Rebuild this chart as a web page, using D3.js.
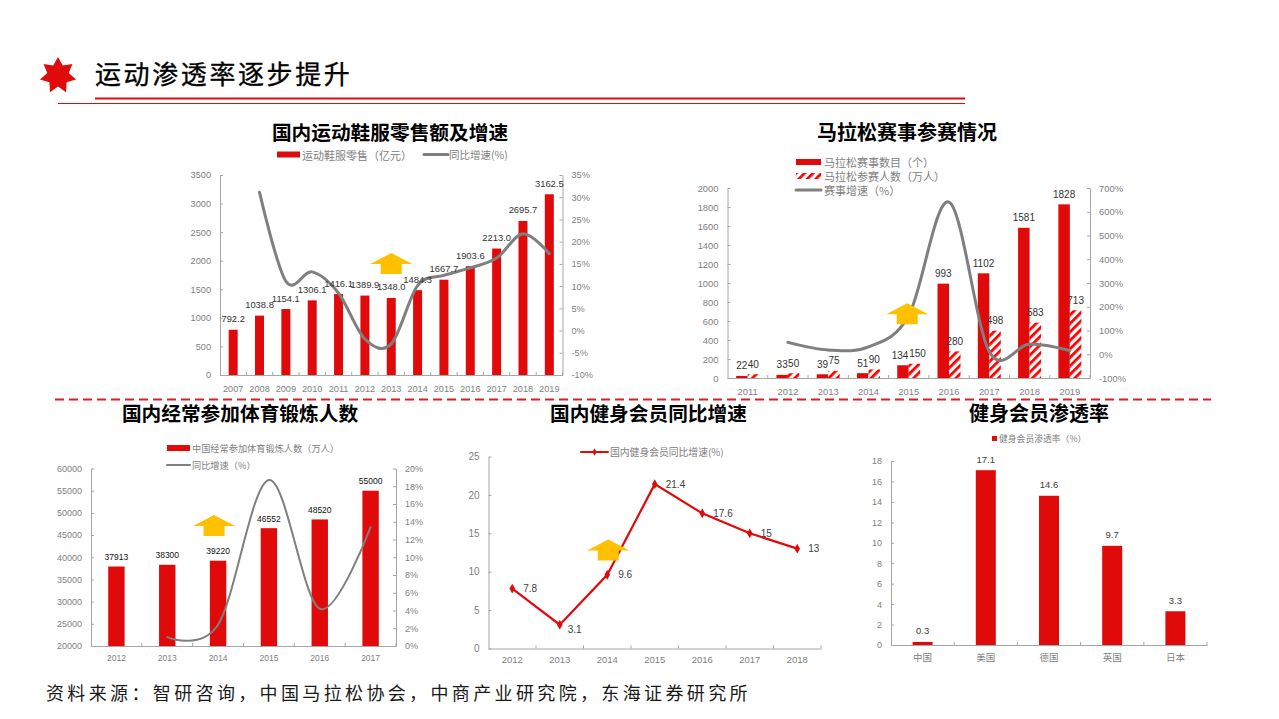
<!DOCTYPE html>
<html lang="zh-CN">
<head>
<meta charset="utf-8">
<title>运动渗透率逐步提升</title>
<script src="https://cdn.jsdelivr.net/npm/d3@7"></script>
<style>
  html, body { margin: 0; padding: 0; background: #fff; }
  svg { display: block; }
  text { font-family: "Liberation Sans", "Noto Sans CJK SC", sans-serif; }
  .cjk { font-family: "Noto Sans CJK SC", sans-serif; }
  .chart-title { font-family: "Noto Sans CJK SC", sans-serif; font-weight: 700; fill: #000; text-anchor: middle; }
  .legend { font-family: "Noto Sans CJK SC", sans-serif; fill: #808080; }
  .tick text { fill: #7f7f7f; }
  .domain, .tick line { stroke: #a6a6a6; }
</style>
</head>
<body>
<svg id="page" width="1279" height="719"></svg>
<script>
// chart 1
const shoeYears = ['2007', '2008', '2009', '2010', '2011', '2012', '2013', '2014', '2015', '2016', '2017', '2018', '2019'];
const shoeSales = [792.2, 1038.8, 1154.1, 1306.1, 1416.1, 1389.9, 1348.0, 1484.3, 1667.7, 1903.6, 2213.0, 2695.7, 3162.5];
const shoeGrowth = [null, 31.1, 11.1, 13.2, 8.4, -1.9, -3.0, 10.1, 12.4, 14.1, 16.3, 21.8, 17.3];

// chart 2
const raceYears = ['2011', '2012', '2013', '2014', '2015', '2016', '2017', '2018', '2019'];
const raceCount = [22, 33, 39, 51, 134, 993, 1102, 1581, 1828];
const racePeople = [40, 50, 75, 90, 150, 280, 498, 583, 713];
const raceGrowth = [null, 50, 18, 31, 163, 641, 11, 43, 16];

// chart 3
const exerciseYears = ['2012', '2013', '2014', '2015', '2016', '2017'];
const exercisePeople = [37913, 38300, 39220, 46552, 48520, 55000];
const exerciseGrowth = [null, 1.0, 2.4, 18.7, 4.2, 13.4];

// chart 4
const memberYears = ['2012', '2013', '2014', '2015', '2016', '2017', '2018'];
const memberGrowth = [7.8, 3.1, 9.6, 21.4, 17.6, 15, 13];

// chart 5
const countries = ['中国', '美国', '德国', '英国', '日本'];
const penetration = [0.3, 17.1, 14.6, 9.7, 3.3];

const RED = '#e00a0a';
const GRAY = '#7f7f7f';
const svg = d3.select('#page');

const defs = svg.append('defs');
const hatch = defs.append('pattern')
  .attr('id', 'hatch')
  .attr('patternUnits', 'userSpaceOnUse')
  .attr('width', 6)
  .attr('height', 6)
  .attr('patternTransform', 'rotate(45)');
hatch.append('rect').attr('width', 6).attr('height', 6).attr('fill', '#fff');
hatch.append('rect').attr('width', 2.8).attr('height', 6).attr('fill', '#f00');

// header
const starPoints = d3.range(14).map(i => [i * Math.PI / 7, i % 2 ? 11 : 18.5]);
svg.append('path')
  .attr('transform', 'translate(58,75.5)')
  .attr('d', d3.lineRadial().curve(d3.curveLinearClosed)(starPoints))
  .attr('fill', RED);
svg.append('text')
  .attr('class', 'cjk')
  .attr('x', 95)
  .attr('y', 84)
  .attr('font-size', 26)
  .attr('letter-spacing', 2.6)
  .attr('fill', '#000')
  .attr('stroke', '#000')
  .attr('stroke-width', 0.3)
  .text('运动渗透率逐步提升');
svg.append('rect').attr('x', 95).attr('width', 870).attr('y', 97.5).attr('height', 2).attr('fill', RED);
svg.append('rect').attr('x', 58).attr('width', 907).attr('y', 103).attr('height', 1).attr('fill', RED);
svg.append('line').attr('x1', 55).attr('x2', 1211).attr('y1', 399.5).attr('y2', 399.5)
  .attr('stroke', '#d81e28').attr('stroke-width', 2).attr('stroke-dasharray', '9 5');
svg.append('text')
  .attr('class', 'cjk')
  .attr('x', 46)
  .attr('y', 700)
  .attr('font-size', 18)
  .attr('letter-spacing', 3.36)
  .attr('fill', '#1a1a1a')
  .text('资料来源：智研咨询，中国马拉松协会，中商产业研究院，东海证券研究所');

function title(text, x, y, size) {
  svg.append('text').attr('class', 'chart-title').attr('x', x).attr('y', y).attr('font-size', size).text(text);
}

function bottomAxis(scale, box, fontSize, tickY) {
  const g = svg.append('g')
    .attr('transform', `translate(0,${box.bottom})`)
    .call(d3.axisBottom(scale).tickSizeOuter(0).tickSize(0).tickPadding(tickY));
  g.selectAll('.tick text').attr('font-size', fontSize);
  // ticks sit between the categories and point into the plot
  const step = scale.step();
  g.selectAll('.sep')
    .data(scale.domain().slice(1))
    .join('line')
    .attr('class', 'sep')
    .attr('x1', d => scale(d))
    .attr('x2', d => scale(d))
    .attr('y1', -3)
    .attr('y2', 0)
    .attr('stroke', '#a6a6a6');
  g.append('line')
    .attr('x1', box.left + step * scale.domain().length)
    .attr('x2', box.left + step * scale.domain().length)
    .attr('y1', -3).attr('y2', 0).attr('stroke', '#a6a6a6');
  return g;
}

function leftAxis(scale, box, tickValues, fontSize) {
  const axis = d3.axisLeft(scale).tickValues(tickValues).tickSizeOuter(0).tickSizeInner(-3).tickPadding(9)
    .tickFormat(d3.format('d'));
  const g = svg.append('g').attr('transform', `translate(${box.left},0)`).call(axis);
  g.selectAll('.tick text').attr('font-size', fontSize);
}

function rightAxis(scale, box, tickValues, fontSize) {
  const axis = d3.axisRight(scale).tickValues(tickValues).tickSizeOuter(0).tickSizeInner(-3).tickPadding(9)
    .tickFormat(d => d + '%');
  const g = svg.append('g').attr('transform', `translate(${box.right},0)`).call(axis);
  g.selectAll('.tick text').attr('font-size', fontSize);
}

function valueLabels(cats, vals, x, y, offset, fontSize, fill, fmt) {
  svg.append('g').selectAll('text')
    .data(cats)
    .join('text')
    .attr('x', d => x(d))
    .attr('y', (d, i) => y(vals[i]) - offset)
    .attr('text-anchor', 'middle')
    .attr('font-size', fontSize)
    .attr('fill', fill)
    .text((d, i) => fmt ? fmt(vals[i]) : vals[i]);
}

function smoothLine(cats, vals, x, y, width) {
  const line = d3.line()
    .defined(d => d[1] !== null)
    .x(d => x(d[0]))
    .y(d => y(d[1]))
    .curve(d3.curveCardinal.tension(0));
  svg.append('path')
    .datum(cats.map((c, i) => [c, vals[i]]))
    .attr('d', line)
    .attr('fill', 'none')
    .attr('stroke', GRAY)
    .attr('stroke-width', width)
    .attr('stroke-linecap', 'round');
}

// yellow up arrow, cx and top come from the chart scales
function upArrow(cx, top) {
  const shape = [[-21, 11], [0, 0], [21, 11], [10.5, 11], [10.5, 21], [-10.5, 21], [-10.5, 11]];
  svg.append('path')
    .attr('transform', `translate(${cx},${top})`)
    .attr('d', d3.line()(shape) + 'Z')
    .attr('fill', '#ffc000');
}

function legendText(text, x, y, size) {
  svg.append('text').attr('class', 'legend').attr('x', x).attr('y', y)
    .attr('dominant-baseline', 'central').attr('font-size', size).text(text);
}

function legendBar(x, y, w, h, fill) {
  svg.append('rect').attr('x', x).attr('y', y - h / 2).attr('width', w).attr('height', h).attr('fill', fill);
}

function legendLine(x1, x2, y, width, color) {
  svg.append('line').attr('x1', x1).attr('x2', x2).attr('y1', y).attr('y2', y)
    .attr('stroke', color).attr('stroke-width', width).attr('stroke-linecap', 'round');
}

// ---- 国内运动鞋服零售额及增速
(function () {
  const box = { left: 220, right: 562.5, top: 175, bottom: 375 };
  const x = d3.scaleBand().domain(shoeYears).range([box.left, box.right]);
  const cx = d => x(d) + x.bandwidth() / 2;
  const y = d3.scaleLinear().domain([0, 3500]).range([box.bottom, box.top]);
  const y2 = d3.scaleLinear().domain([-10, 35]).range([box.bottom, box.top]);

  title('国内运动鞋服零售额及增速', 390, 140, 19.7);
  legendBar(277, 154.5, 23, 6, RED);
  legendText('运动鞋服零售（亿元）', 302, 154.5, 11);
  legendLine(424, 448, 154.5, 3, GRAY);
  legendText('同比增速(%)', 449, 154.5, 10.5);

  bottomAxis(x, box, 9.2, 10);
  leftAxis(y, box, d3.range(0, 3501, 500), 9.2);
  rightAxis(y2, box, d3.range(-10, 36, 5), 9.2);

  svg.append('g').selectAll('rect')
    .data(shoeYears)
    .join('rect')
    .attr('x', d => cx(d) - 4.5)
    .attr('width', 9)
    .attr('y', (d, i) => y(shoeSales[i]))
    .attr('height', (d, i) => box.bottom - y(shoeSales[i]))
    .attr('fill', RED);

  smoothLine(shoeYears, shoeGrowth, cx, y2, 3);
  upArrow(cx('2013'), y(2135));
  valueLabels(shoeYears, shoeSales, cx, y, 7.5, 9.4, '#333', d3.format('.1f'));
})();

// ---- 马拉松赛事参赛情况
(function () {
  const box = { left: 727.5, right: 1090, top: 188, bottom: 378 };
  const x = d3.scaleBand().domain(raceYears).range([box.left, box.right]);
  const cx = d => x(d) + x.bandwidth() / 2;
  const y = d3.scaleLinear().domain([0, 2000]).range([box.bottom, box.top]);
  const y2 = d3.scaleLinear().domain([-100, 700]).range([box.bottom, box.top]);
  const barW = 11.5;

  title('马拉松赛事参赛情况', 907, 140, 20);
  legendBar(796, 162, 25, 6, RED);
  legendText('马拉松赛事数目（个）', 824, 162, 11);
  legendBar(796, 176, 25, 6, 'url(#hatch)');
  legendText('马拉松参赛人数（万人）', 824, 176, 11);
  legendLine(796, 821, 190, 3, GRAY);
  legendText('赛事增速（%）', 824, 190, 11);

  bottomAxis(x, box, 9.4, 10);
  leftAxis(y, box, d3.range(0, 2001, 200), 9.4);
  rightAxis(y2, box, d3.range(-100, 701, 100), 9.4);

  svg.append('g').selectAll('rect')
    .data(raceYears)
    .join('rect')
    .attr('x', d => cx(d) - barW)
    .attr('width', barW)
    .attr('y', (d, i) => y(raceCount[i]))
    .attr('height', (d, i) => box.bottom - y(raceCount[i]))
    .attr('fill', RED);
  svg.append('g').selectAll('rect')
    .data(raceYears)
    .join('rect')
    .attr('x', d => cx(d))
    .attr('width', barW)
    .attr('y', (d, i) => y(racePeople[i]))
    .attr('height', (d, i) => box.bottom - y(racePeople[i]))
    .attr('fill', 'url(#hatch)');

  smoothLine(raceYears, raceGrowth, cx, y2, 3);
  upArrow(cx('2015') - 1.5, y(788));
  // 2015 labels are pushed apart a little so they stay readable
  const nudge = d => (d === '2015' ? 3 : 0);
  valueLabels(raceYears, raceCount, d => cx(d) - barW / 2 - nudge(d), y, 6.5, 10, '#333');
  valueLabels(raceYears, racePeople, d => cx(d) + barW / 2 + nudge(d), y, 6.5, 10, '#333');
})();

// ---- 国内经常参加体育锻炼人数
(function () {
  const box = { left: 91, right: 396, top: 468.5, bottom: 646 };
  const x = d3.scaleBand().domain(exerciseYears).range([box.left, box.right]);
  const cx = d => x(d) + x.bandwidth() / 2;
  const y = d3.scaleLinear().domain([20000, 60000]).range([box.bottom, box.top]);
  const y2 = d3.scaleLinear().domain([0, 20]).range([box.bottom, box.top]);

  title('国内经常参加体育锻炼人数', 240, 421, 19.7);
  legendBar(167, 448, 23, 6, RED);
  legendText('中国经常参加体育锻炼人数（万人）', 192, 448, 9.2);
  legendLine(167, 190, 465, 2, GRAY);
  legendText('同比增速（%）', 192, 465, 9.2);

  bottomAxis(x, box, 8.5, 9);
  leftAxis(y, box, d3.range(20000, 60001, 5000), 9);
  rightAxis(y2, box, d3.range(0, 21, 2), 9);

  svg.append('g').selectAll('rect')
    .data(exerciseYears)
    .join('rect')
    .attr('x', d => cx(d) - 8.2)
    .attr('width', 16.4)
    .attr('y', (d, i) => y(exercisePeople[i]))
    .attr('height', (d, i) => box.bottom - y(exercisePeople[i]))
    .attr('fill', RED);

  smoothLine(exerciseYears, exerciseGrowth, cx, y2, 2);
  upArrow(cx('2014') - 4, y(49500));
  valueLabels(exerciseYears, exercisePeople, cx, y, 6.5, 8.5, '#111');
})();

// ---- 国内健身会员同比增速
(function () {
  const box = { left: 488.5, right: 821, top: 456.5, bottom: 648.5 };
  const x = d3.scaleBand().domain(memberYears).range([box.left, box.right]);
  const cx = d => x(d) + x.bandwidth() / 2;
  const y = d3.scaleLinear().domain([0, 25]).range([box.bottom, box.top]);

  title('国内健身会员同比增速', 648.5, 421, 19.7);
  legendLine(581, 608, 452, 2, RED);
  svg.append('path')
    .attr('transform', 'translate(594.5,452)')
    .attr('d', d3.symbol(d3.symbolDiamond, 16)())
    .attr('fill', RED);
  legendText('国内健身会员同比增速(%)', 610, 452, 9.8);

  bottomAxis(x, box, 9.5, 8);
  leftAxis(y, box, d3.range(0, 26, 5), 10);

  svg.append('path')
    .datum(memberGrowth)
    .attr('d', d3.line().x((d, i) => cx(memberYears[i])).y(d => y(d)))
    .attr('fill', 'none')
    .attr('stroke', RED)
    .attr('stroke-width', 2.2);
  upArrow(cx('2014') + 1, y(14.2));
  svg.append('g').selectAll('path')
    .data(memberGrowth)
    .join('path')
    .attr('transform', (d, i) => `translate(${cx(memberYears[i])},${y(d)})`)
    .attr('d', d3.symbol(d3.symbolDiamond, 28)())
    .attr('fill', RED);
  svg.append('g').selectAll('text')
    .data(memberGrowth)
    .join('text')
    .attr('x', (d, i) => cx(memberYears[i]) + (i === 1 ? 8 : 11))
    .attr('y', (d, i) => y(d) + (i === 1 ? 5 : 0))
    .attr('dy', '0.35em')
    .attr('font-size', 10)
    .attr('fill', '#404040')
    .text(d => d);
})();

// ---- 健身会员渗透率
(function () {
  const box = { left: 891, right: 1207, top: 461, bottom: 645 };
  const x = d3.scaleBand().domain(countries).range([box.left, box.right]);
  const cx = d => x(d) + x.bandwidth() / 2;
  const y = d3.scaleLinear().domain([0, 18]).range([box.bottom, box.top]);

  title('健身会员渗透率', 1039, 421, 20);
  legendBar(992, 438.5, 5, 5, RED);
  legendText('健身会员渗透率（%）', 999, 438.5, 8.8);

  bottomAxis(x, box, 9.5, 9).selectAll('.tick text').attr('class', 'cjk');
  leftAxis(y, box, d3.range(0, 19, 2), 9);

  svg.append('g').selectAll('rect')
    .data(countries)
    .join('rect')
    .attr('x', d => cx(d) - 10)
    .attr('width', 20)
    .attr('y', (d, i) => y(penetration[i]))
    .attr('height', (d, i) => box.bottom - y(penetration[i]))
    .attr('fill', RED);
  valueLabels(countries, penetration, cx, y, 7.5, 9.5, '#404040');
})();
</script>
</body>
</html>
